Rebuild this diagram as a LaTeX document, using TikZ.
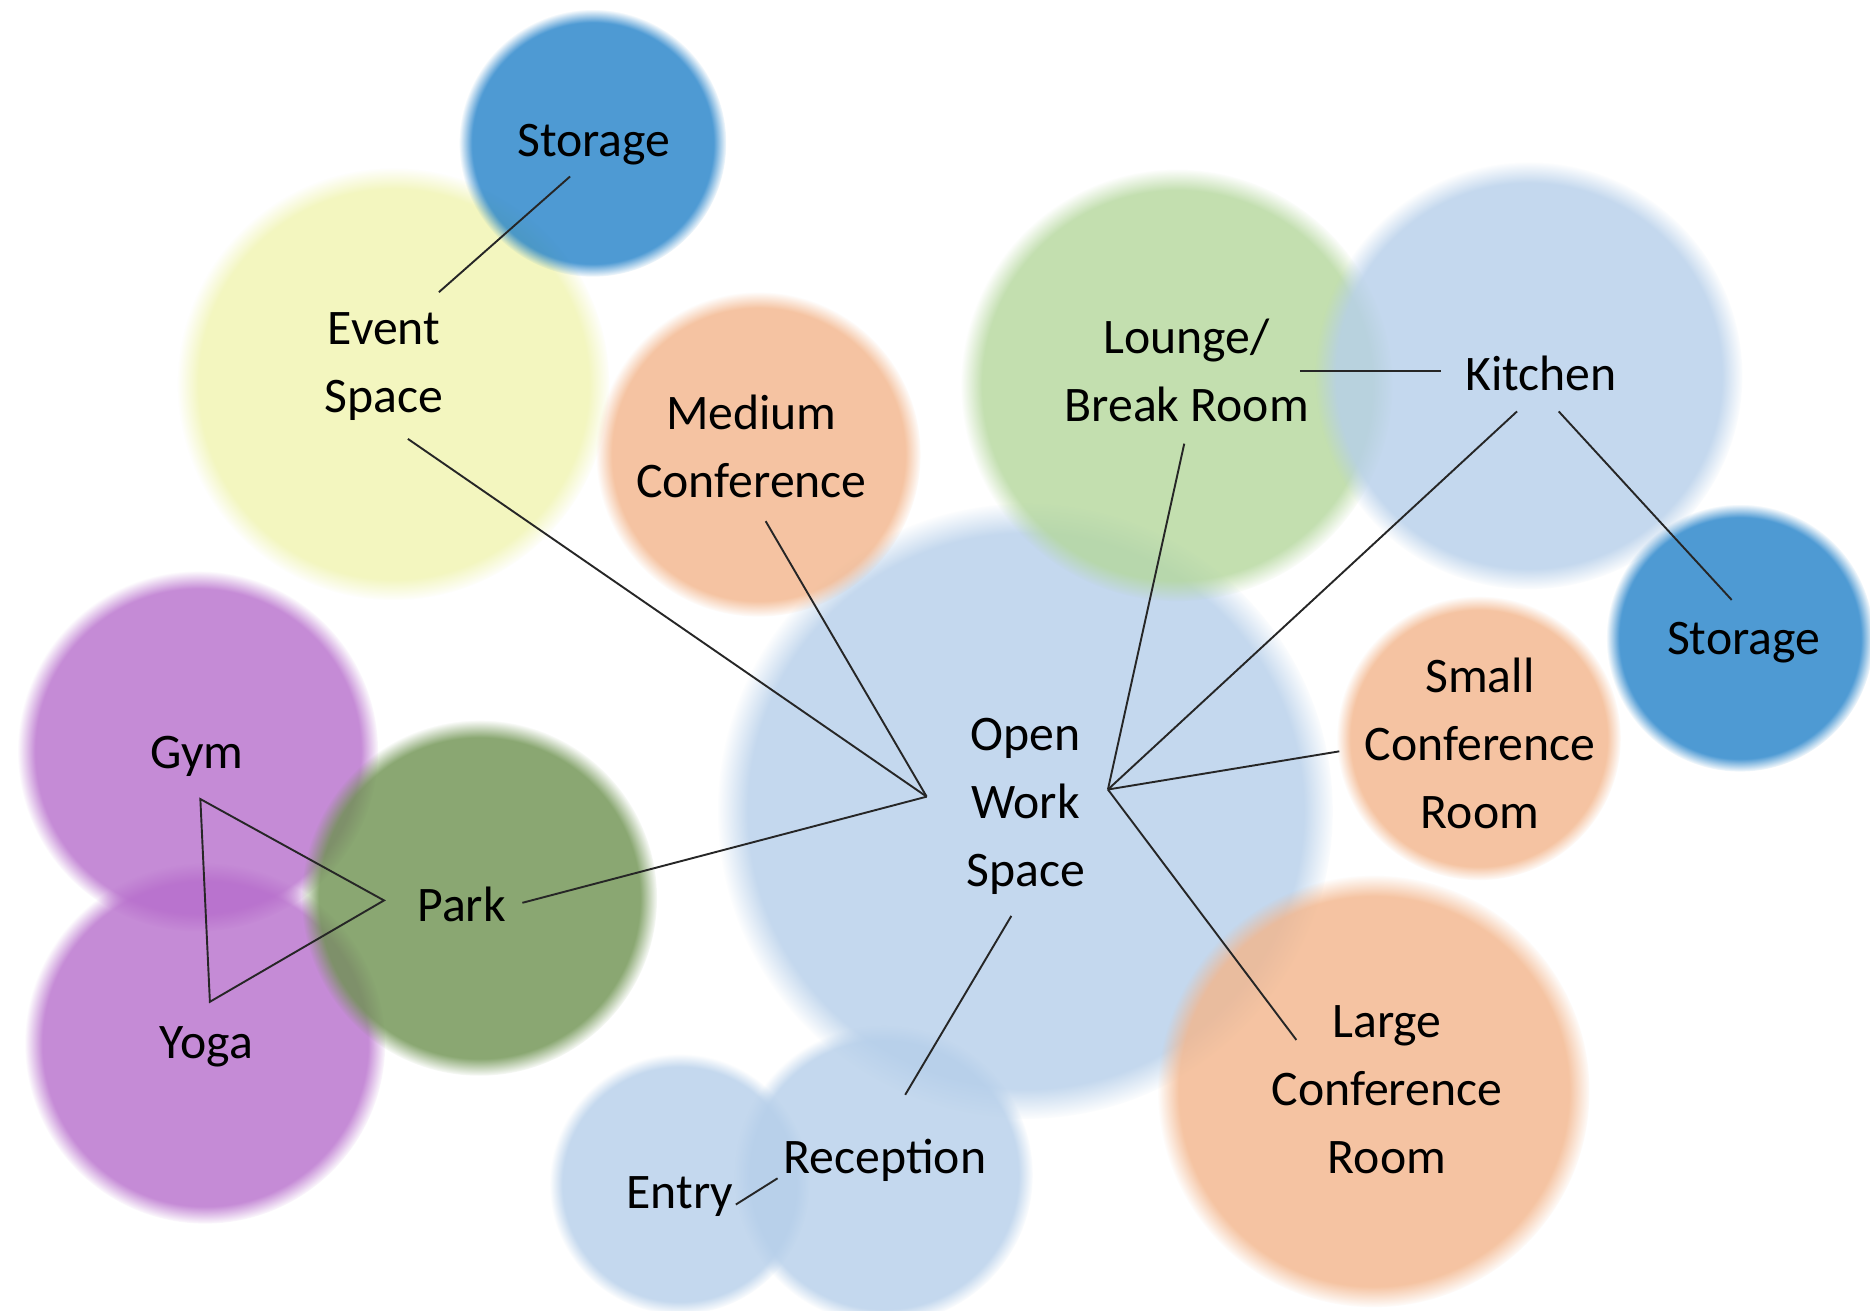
\documentclass[tikz,border=0pt]{standalone}
\usepackage{fontspec}
\setmainfont{Carlito}
\usetikzlibrary{fadings}
\definecolor{cBlue}{RGB}{34,129,201}
\definecolor{cLight}{RGB}{182,207,234}
\definecolor{cYellow}{RGB}{240,244,176}
\definecolor{cOrange}{RGB}{243,181,139}
\definecolor{cLounge}{RGB}{180,215,156}
\definecolor{cPurple}{RGB}{183,110,204}
\definecolor{cPark}{RGB}{109,146,79}
\begin{document}
\begin{tikzpicture}[x=1pt,y=-1pt,
  bubble/.style={fill opacity=0.8, path fading=circle with fuzzy edge 10 percent},
  lbl/.style={font=\fontsize{41.7}{57}\selectfont, align=center, inner sep=0pt, text=black},
  link/.style={line width=1.6pt, black!85}]
\useasboundingbox (0,0) rectangle (1568,1099);
\fill[white] (0,0) rectangle (1568,1099);
% bubbles
\fill[bubble, cLight]  (860,680)  circle[radius=258pt];
\fill[bubble, cYellow] (330,322)  circle[radius=181pt];
\fill[bubble, cBlue]   (497,120)  circle[radius=112pt];
\fill[bubble, cOrange] (636,381)  circle[radius=136pt];
\fill[bubble, cLounge] (987,323)  circle[radius=181pt];
\fill[bubble, cLight]  (1282,315) circle[radius=179pt];
\fill[bubble, cBlue]   (1459,535) circle[radius=112pt];
\fill[bubble, cOrange] (1240,619) circle[radius=119pt];
\fill[bubble, cOrange] (1152,915) circle[radius=181pt];
\fill[bubble, cPurple] (166,630)  circle[radius=151pt];
\fill[bubble, cPurple] (172,875)  circle[radius=151pt];
\fill[bubble, cPark]   (402,753)  circle[radius=149pt];
\fill[bubble, cLight]  (570,993)  circle[radius=109pt];
\fill[bubble, cLight]  (741,985)  circle[radius=125pt];
% labels
\node[lbl] (stor1) at (498,121) {Storage};
\node[lbl] (event) at (322,307) {Event\\Space};
\node[lbl] (medium) at (630,374) {Medium\\Conference};
\node[lbl] (lounge) at (995,311) {Lounge/\\Break Room};
\node[lbl] (kitchen) at (1292,313) {Kitchen};
\node[lbl] (stor2) at (1462,539) {Storage};
\node[lbl] (small) at (1241,623) {Small\\Conference\\Room};
\node[lbl] (open) at (860,676) {Open\\Work\\Space};
\node[lbl] (large) at (1163,914) {Large\\Conference\\Room};
\node[lbl] (gym) at (165,634) {Gym};
\node[lbl] (park) at (387,758) {Park};
\node[lbl] (yoga) at (173,878) {Yoga};
\node[lbl] (recep) at (742,973) {Reception};
\node[lbl] (entry) at (570,1003) {Entry};
% connector end points
\coordinate (s1e) at (478,148);
\coordinate (evn) at (368,245);
\coordinate (evs) at (342,368);
\coordinate (ml) at (777,668);
\coordinate (mr) at (929,662);
\coordinate (mds) at (642,437);
\coordinate (pke) at (438,757);
\coordinate (pkw) at (322,755);
\coordinate (gyms) at (168,670);
\coordinate (yogn) at (176,840);
\coordinate (lgs) at (993,372);
\coordinate (lge) at (1090,311);
\coordinate (ktw) at (1208,311);
\coordinate (ktsw) at (1272,345);
\coordinate (ktse) at (1307,345);
\coordinate (s2n) at (1452,503);
\coordinate (smw) at (1123,630);
\coordinate (lgn) at (1087,872);
\coordinate (ops) at (848,768);
\coordinate (rcn) at (759,918);
\coordinate (rcw) at (652,988);
\coordinate (ene) at (617,1010);
% connectors
\draw[link] (s1e) -- (evn);
\draw[link] (evs) -- (ml);
\draw[link] (mds) -- (ml);
\draw[link] (pke) -- (ml);
\draw[link] (lgs) -- (mr);
\draw[link] (ktsw) -- (mr);
\draw[link] (smw) -- (mr);
\draw[link] (mr) -- (lgn);
\draw[link] (lge) -- (ktw);
\draw[link] (ktse) -- (s2n);
\draw[link] (ops) -- (rcn);
\draw[link] (rcw) -- (ene);
\draw[link] (gyms) -- (pkw) -- (yogn) -- cycle;
\end{tikzpicture}
\end{document}
